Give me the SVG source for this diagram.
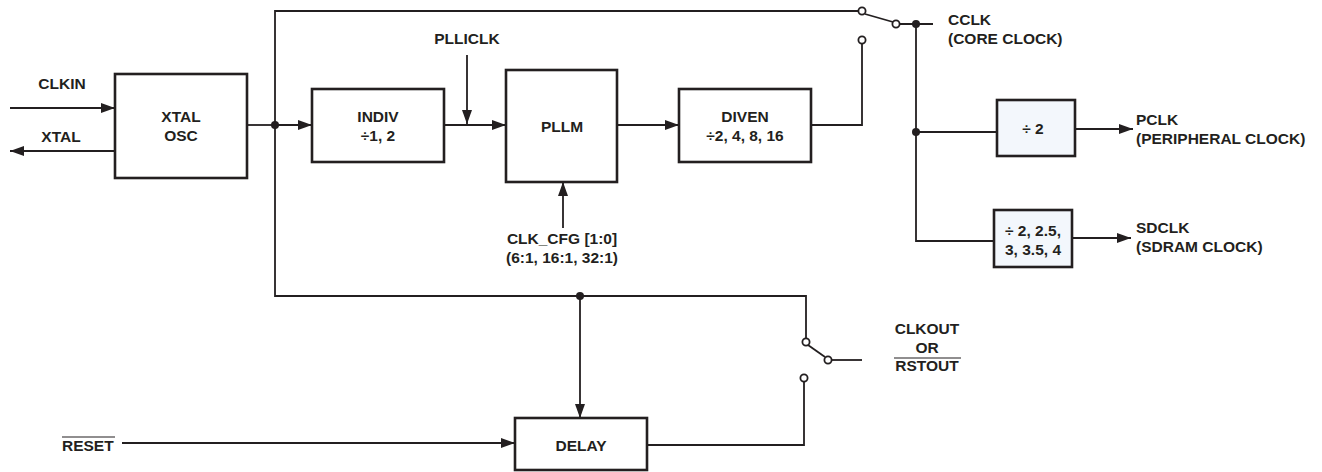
<svg xmlns="http://www.w3.org/2000/svg" width="1322" height="472" viewBox="0 0 1322 472">
<style>
.box{fill:#fff;stroke:#231f20;stroke-width:2.6}
.boxb{fill:#f3f7fc;stroke:#231f20;stroke-width:2.6}
.ln{fill:none;stroke:#231f20;stroke-width:1.8}
.t{font-family:"Liberation Sans",Arial,sans-serif;font-weight:bold;font-size:15.5px;fill:#231f20}
.c{text-anchor:middle}
.dot{fill:#231f20}
.oc{fill:#fff;stroke:#231f20;stroke-width:1.8}
.ol{stroke:#231f20;stroke-width:1.2}
</style>
<defs>
<marker id="ah" markerWidth="14" markerHeight="10" refX="14" refY="5" orient="auto" markerUnits="userSpaceOnUse">
<path d="M0,0 L14,5 L0,10 Z" fill="#231f20"/>
</marker>
</defs>
<g id="connectors">
<line class="ln" x1="10" y1="108" x2="115" y2="108" marker-end="url(#ah)"/>
<line class="ln" x1="115" y1="151" x2="10" y2="151" marker-end="url(#ah)"/>
<line class="ln" x1="247" y1="125" x2="275" y2="125"/>
<line class="ln" x1="275" y1="125" x2="312" y2="125" marker-end="url(#ah)"/>
<polyline class="ln" points="858,11 275,11 275,296 806,296 806,338"/>
<line class="ln" x1="444" y1="125" x2="506" y2="125" marker-end="url(#ah)"/>
<line class="ln" x1="467" y1="55" x2="467" y2="124" marker-end="url(#ah)"/>
<line class="ln" x1="617" y1="125" x2="679" y2="125" marker-end="url(#ah)"/>
<polyline class="ln" points="811,125 862,125 862,44"/>
<line class="ln" x1="563" y1="228" x2="563" y2="182" marker-end="url(#ah)"/>
<line class="ln" x1="865" y1="14" x2="893" y2="22"/>
<line class="ln" x1="900" y1="24" x2="933" y2="24"/>
<polyline class="ln" points="916,24 916,241 994,241"/>
<line class="ln" x1="916" y1="132" x2="997" y2="132"/>
<line class="ln" x1="1075" y1="129" x2="1133" y2="129" marker-end="url(#ah)"/>
<line class="ln" x1="1072" y1="238" x2="1131" y2="238" marker-end="url(#ah)"/>
<line class="ln" x1="580" y1="296" x2="580" y2="418" marker-end="url(#ah)"/>
<line class="ln" x1="122" y1="443" x2="515" y2="443" marker-end="url(#ah)"/>
<polyline class="ln" points="647,445 804,445 804,382"/>
<line class="ln" x1="808" y1="345" x2="825" y2="357"/>
<line class="ln" x1="832" y1="360" x2="862" y2="360"/>
<circle class="dot" cx="275" cy="125" r="4"/>
<circle class="dot" cx="916" cy="24" r="4"/>
<circle class="dot" cx="916" cy="132" r="4"/>
<circle class="dot" cx="580" cy="296" r="4"/>
<circle class="oc" cx="862" cy="11" r="3.6"/>
<circle class="oc" cx="896" cy="24" r="3.6"/>
<circle class="oc" cx="862" cy="40" r="3.6"/>
<circle class="oc" cx="806" cy="342" r="3.6"/>
<circle class="oc" cx="828" cy="360" r="3.6"/>
<circle class="oc" cx="804" cy="378" r="3.6"/>
</g>
<g id="xtalosc">
<rect class="box" x="115" y="74" width="132" height="104"/>
<text class="t c" x="181" y="122">XTAL</text>
<text class="t c" x="181" y="141">OSC</text>
</g>
<g id="indiv">
<rect class="box" x="312" y="89" width="132" height="73"/>
<text class="t c" x="378" y="122">INDIV</text>
<text class="t c" x="378" y="141">÷1, 2</text>
</g>
<g id="pllm">
<rect class="box" x="506" y="70" width="111" height="112"/>
<text class="t c" x="562" y="132">PLLM</text>
</g>
<g id="diven">
<rect class="box" x="679" y="89" width="132" height="73"/>
<text class="t c" x="745" y="122">DIVEN</text>
<text class="t c" x="745" y="141">÷2, 4, 8, 16</text>
</g>
<g id="div2">
<rect class="boxb" x="997" y="100" width="78" height="56"/>
<text class="t c" x="1033" y="134">÷ 2</text>
</g>
<g id="divsd">
<rect class="boxb" x="994" y="210" width="78" height="57"/>
<text class="t c" x="1033" y="236">÷ 2, 2.5,</text>
<text class="t c" x="1033" y="255">3, 3.5, 4</text>
</g>
<g id="delay">
<rect class="box" x="515" y="418" width="132" height="52"/>
<text class="t c" x="581" y="451">DELAY</text>
</g>
<g id="labels">
<text class="t c" x="62" y="89">CLKIN</text>
<text class="t c" x="61" y="142">XTAL</text>
<text class="t c" x="467" y="44">PLLICLK</text>
<text class="t c" x="562" y="244">CLK_CFG [1:0]</text>
<text class="t c" x="562" y="263">(6:1, 16:1, 32:1)</text>
<text class="t" x="948" y="25">CCLK</text>
<text class="t" x="948" y="44">(CORE CLOCK)</text>
<text class="t" x="1136" y="125">PCLK</text>
<text class="t" x="1136" y="144">(PERIPHERAL CLOCK)</text>
<text class="t" x="1136" y="233">SDCLK</text>
<text class="t" x="1136" y="252">(SDRAM CLOCK)</text>
<text class="t c" x="927" y="334">CLKOUT</text>
<text class="t c" x="927" y="353">OR</text>
<text class="t c" x="927" y="371">RSTOUT</text>
<line class="ol" x1="894" y1="358" x2="961" y2="358"/>
<text class="t" x="62" y="451">RESET</text>
<line class="ol" x1="62" y1="437" x2="115" y2="437"/>
</g>
</svg>
